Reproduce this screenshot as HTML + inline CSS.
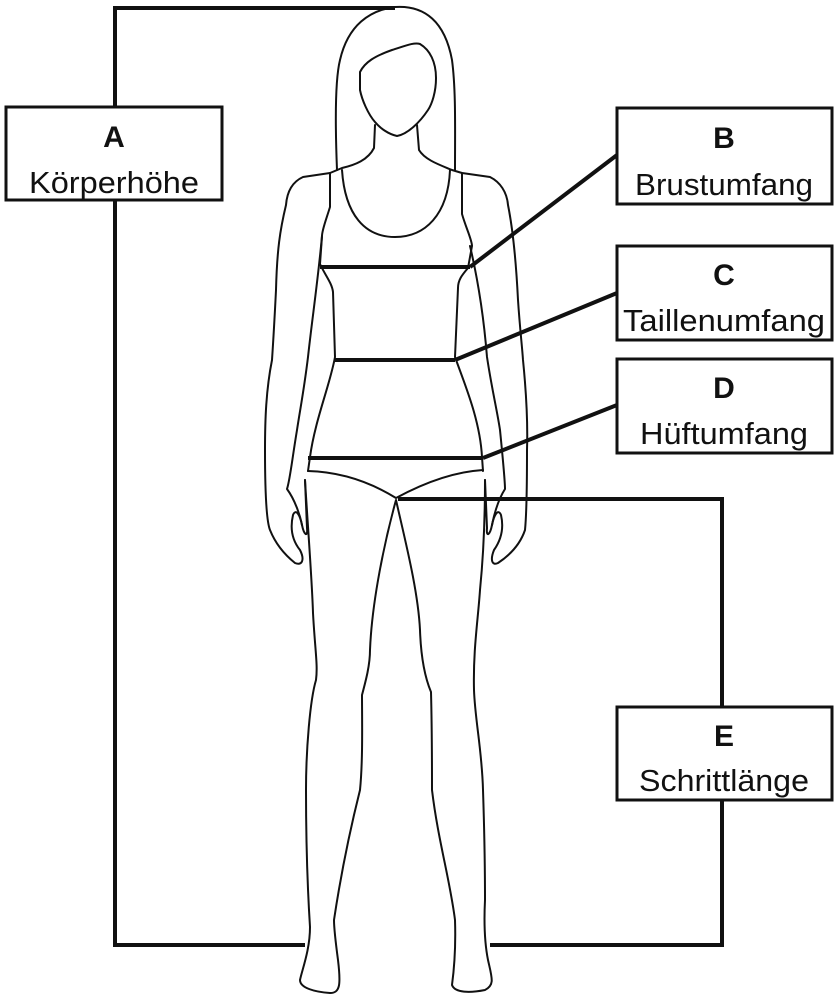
<!DOCTYPE html>
<html><head><meta charset="utf-8"><style>
html,body{margin:0;padding:0;background:#fff;}
svg{display:block;}
text{font-family:"Liberation Sans",sans-serif;fill:#111;}
.l{font-size:31px;}
.b{font-size:30px;font-weight:bold;}
</style></head><body>
<svg width="840" height="1000" viewBox="0 0 840 1000">
<g fill="none" stroke="#111" stroke-width="4">
<polyline points="395,8 115,8 115,107"/>
<polyline points="115,200 115,945 305,945"/>
<polyline points="398,499 722,499 722,706"/>
<polyline points="722,800 722,945 490,945"/>
<line x1="320" y1="267" x2="470" y2="267"/>
<line x1="470" y1="267" x2="617" y2="155"/>
<line x1="335" y1="360" x2="455" y2="360"/>
<line x1="455" y1="360" x2="617" y2="293"/>
<line x1="308" y1="458" x2="483" y2="458"/>
<line x1="483" y1="458" x2="617" y2="405"/>
</g>
<g fill="none" stroke="#111" stroke-width="2" stroke-linejoin="round" stroke-linecap="round">
<path d="M337,170 C335,120 335,80 340,60 C348,25 370,10 395,7 C425,5 445,22 452,60 C456,90 455,130 455,170"/>
<path d="M360,72 C365,62 375,56 392,50 C405,46 414,42 420,44 C430,50 436,62 436,78 C436,92 432,104 428,110 C420,122 408,134 397,136 C388,134 380,128 375,122 C368,114 362,100 360,90 Z"/>
<path d="M375,125 L374,148 C368,160 355,165 342,168 L330,173 L303,177 C292,182 287,192 286,205 C280,230 277,250 276,290 C274,330 273,345 272,360 C266,390 265,420 265,450 C265,490 266,520 270,530 C276,545 285,555 295,563 C302,566 305,560 300,550 C292,540 290,528 293,515 C296,508 300,515 302,525 C304,535 308,538 307,528 L305,480"/>
<path d="M417,125 L419,150 C425,160 440,165 452,170 L462,173 L490,177 C500,182 507,192 508,205 C513,230 516,260 518,300 C520,330 522,345 523,360 C526,390 528,420 527,450 C527,490 526,520 525,530 C520,545 510,555 498,563 C492,566 490,560 494,550 C501,540 504,528 501,515 C498,508 494,515 492,525 C490,535 486,538 487,528 L485,480"/>
<path d="M330,173 L330,207 C326,220 322,230 322,236 L320,264"/>
<path d="M342,170 C345,215 365,237 395,237 C425,237 448,215 450,170"/>
<path d="M462,173 L462,214 C466,228 472,240 472,246 L468,268"/>
<path d="M320,264 C325,275 332,283 333,292 L335,357 C330,385 315,420 310,457 L308,471"/>
<path d="M468,268 C462,275 458,280 458,288 L455,357 C465,385 480,420 482,457 L483,471"/>
<path d="M322,236 C318,280 312,320 308,357 C304,390 300,410 297,430 C292,460 290,480 287,489 C295,500 300,515 302,525"/>
<path d="M470,246 C478,280 484,320 487,357 C492,390 497,410 500,430 C503,460 505,480 505,489 C498,500 494,515 492,525"/>
<path d="M308,471 C345,472 375,485 396,498 C420,485 450,472 483,470"/>
<path d="M305,480 C308,530 312,580 313,613 C315,650 318,665 316,680 C310,700 306,750 306,790 C306,830 307,880 310,927 C310,950 302,970 300,980 C300,988 315,992 330,993 C340,993 341,985 338,960 C336,945 334,930 334,920 C340,880 350,830 360,790 C363,760 362,720 362,695 C366,680 370,665 370,650 C372,600 385,540 396,500 C405,540 418,590 420,630 C421,660 426,680 431,692 C432,730 432,760 432,790 C438,840 450,880 455,920 C456,950 454,970 452,985 C455,993 470,993 485,990 C495,985 492,978 488,960 C484,940 484,920 485,900 C485,860 484,820 483,790 C482,750 475,720 474,690 C473,650 478,620 480,590 C483,560 485,520 485,480"/>
</g>
<g fill="#fff" stroke="#111" stroke-width="3">
<rect x="6" y="107" width="216" height="93"/>
<rect x="617" y="108" width="215" height="96"/>
<rect x="617" y="246" width="215" height="94"/>
<rect x="617" y="359" width="215" height="94"/>
<rect x="617" y="707" width="215" height="93"/>
</g>
<g text-anchor="middle">
<text class="b" x="114" y="147">A</text><text class="l" x="114" y="193" textLength="170" lengthAdjust="spacingAndGlyphs">Körperhöhe</text>
<text class="b" x="724" y="148">B</text><text class="l" x="724" y="195" textLength="178" lengthAdjust="spacingAndGlyphs">Brustumfang</text>
<text class="b" x="724" y="285">C</text><text class="l" x="724" y="331" textLength="202" lengthAdjust="spacingAndGlyphs">Taillenumfang</text>
<text class="b" x="724" y="398">D</text><text class="l" x="724" y="444" textLength="168" lengthAdjust="spacingAndGlyphs">Hüftumfang</text>
<text class="b" x="724" y="746">E</text><text class="l" x="724" y="791" textLength="170" lengthAdjust="spacingAndGlyphs">Schrittlänge</text>
</g>
</svg>
</body></html>
